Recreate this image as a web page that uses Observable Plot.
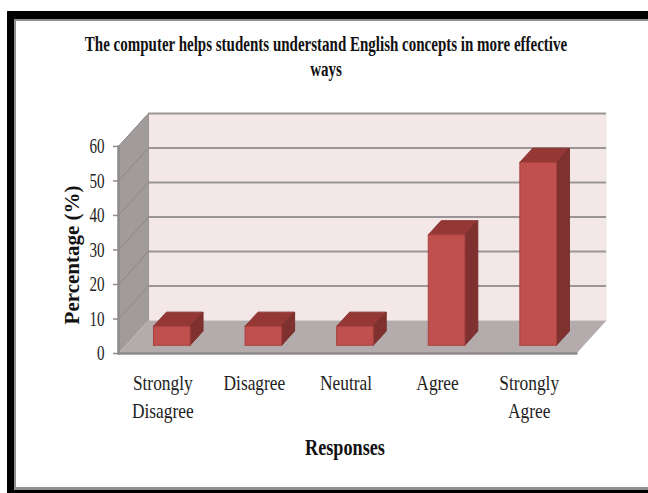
<!DOCTYPE html>
<html>
<head>
<meta charset="utf-8">
<script src="https://cdn.jsdelivr.net/npm/d3@7"></script>
<script src="https://cdn.jsdelivr.net/npm/@observablehq/plot@0.6"></script>
<style>
html,body{margin:0;padding:0;background:#fff;overflow:hidden;width:648px;height:493px}
#black{position:absolute;left:7px;top:11px;width:700px;height:482px;background:#000}
#gray{position:absolute;left:14px;top:19px;width:700px;height:471px;background:#8f8f8f}
#white{position:absolute;left:16px;top:21px;width:700px;height:466px;background:#fff}
#title{position:absolute;left:0;top:32px;width:652px;text-align:center;font:bold 20px/25px "Liberation Serif",serif;color:#111;transform:scaleX(.75);transform-origin:326px 0;white-space:pre}
#chart{position:absolute;left:0;top:90px}
#chart svg{background:transparent;display:block}
</style>
</head>
<body>
<div id="black"></div><div id="gray"></div><div id="white"></div>
<div id="title">The computer helps students understand English concepts in more effective
ways</div>
<div id="chart"></div>
<script>
const titleText = "The computer helps students understand English concepts in more effective ways";
const categories = ["Strongly\nDisagree", "Disagree", "Neutral", "Agree", "Strongly\nAgree"];
const values = [5.5, 5.5, 5.5, 32, 53];
const yTicks = [0, 10, 20, 30, 40, 50, 60];
const yLabel = "Percentage (%)";
const xLabel = "Responses";

// oblique depth: how far the back of the chart shifts, in data units
const depthX = 0.328, depthY = 9.54;
const barW = 0.4, barZ0 = 0.25, barZ1 = 0.68;
const nCat = categories.length;
const pt = (c, v, z = 0) => [c + z * depthX, v + z * depthY];

const poly = (pts, fill, stroke = "none", sw = 0) =>
  Plot.line([...pts, pts[0]], {x: d => d[0], y: d => d[1], fill, stroke, strokeWidth: sw, curve: "linear"});

const wall = poly([pt(0,0,1), pt(nCat,0,1), pt(nCat,60,1), pt(0,60,1)], "#f3e7e7");
const side = poly([pt(0,0,0), pt(0,0,1), pt(0,60,1), pt(0,60,0)], "#a19b9b");
const floor = poly([pt(0,0,0), pt(0,0,1), pt(nCat,0,1), pt(nCat,0,0)], "#b4acac");

const backGrid = Plot.ruleY(yTicks.slice(1), {
  x1: pt(0,0,1)[0], x2: pt(nCat,0,1)[0], y: d => pt(0,d,1)[1], stroke: "#9c9595", strokeWidth: 2
});
const sideGrid = yTicks.slice(1).map(v => Plot.line([pt(0,v,0), pt(0,v,1)], {x: d => d[0], y: d => d[1], stroke: "#8d8787", strokeWidth: 1}));
const floorEdge = Plot.line([pt(0,0,0), pt(nCat,0,0)], {x: d => d[0], y: d => d[1], stroke: "#8f8a8a", strokeWidth: 2.5});
const leftEdge = Plot.line([pt(0,0,0), pt(0,60,0)], {x: d => d[0], y: d => d[1], stroke: "#8f8a8a", strokeWidth: 2.5});
const backLeft = Plot.line([pt(0,0,1), pt(0,60,1)], {x: d => d[0], y: d => d[1], stroke: "#9c9595", strokeWidth: 1});
const topSide = Plot.line([pt(0,60,0), pt(0,60,1)], {x: d => d[0], y: d => d[1], stroke: "#9c9595", strokeWidth: 1});

const bars = values.flatMap((v, i) => {
  const a = i + 0.5 - barW / 2, b = i + 0.5 + barW / 2;
  return [
    poly([pt(a,v,barZ0), pt(b,v,barZ0), pt(b,v,barZ1), pt(a,v,barZ1)], "#953735", "#8a3432", 1),
    poly([pt(b,0,barZ0), pt(b,0,barZ1), pt(b,v,barZ1), pt(b,v,barZ0)], "#7e312f", "#76302e", 1),
    poly([pt(a,0,barZ0), pt(b,0,barZ0), pt(b,v,barZ0), pt(a,v,barZ0)], "#c0504d", "#a8413e", 1)
  ];
});

const serif = '"Liberation Serif", serif';
const chart = Plot.plot({
  width: 648,
  height: 380,
  marginLeft: 118,
  marginRight: 42,
  marginTop: 23,
  marginBottom: 117,
  style: {fontFamily: serif, background: "transparent", color: "#111"},
  x: {domain: [0, nCat + depthX], axis: null},
  y: {domain: [0, 60 + depthY], axis: null},
  marks: [
    wall, side, floor, backGrid, backLeft, topSide, ...sideGrid, floorEdge, leftEdge, ...bars,
    Plot.axisY({ticks: yTicks, anchor: "left", tickSize: 5, tickPadding: 9, label: null, fontSize: 21, stroke: "#8f8a8a", strokeWidth: 1.5, tickFormat: d => String(d), fill: "#222"}),
    Plot.axisX({ticks: categories.map((_, i) => i + 0.5), anchor: "bottom", tickSize: 0, tickPadding: 17, dx: -1.5, label: null, fontSize: 22, lineHeight: 1.27, tickFormat: d => categories[d - 0.5], fill: "#222"}),
    Plot.text([xLabel], {x: 2.5, y: 0, dy: 94, dx: -2.5, text: d => d, fontSize: 23, fontWeight: "bold", fill: "#111"}),
    Plot.text([yLabel], {x: 0, y: 30, dx: -46, dy: 5, text: d => d, rotate: -90, fontSize: 21, fontWeight: "bold", fill: "#111", className: "ylab"})
  ]
});
// the reference's type is horizontally condensed
chart.querySelectorAll("text").forEach(t => {
  if (t.closest(".ylab")) return;
  const s = t.closest('[aria-label="y-axis tick label"]') ? 0.72 : 0.79;
  t.setAttribute("transform", (t.getAttribute("transform") || "") + ` scale(${s},1)`);
});
document.getElementById("chart").appendChild(chart);
</script>
</body>
</html>
